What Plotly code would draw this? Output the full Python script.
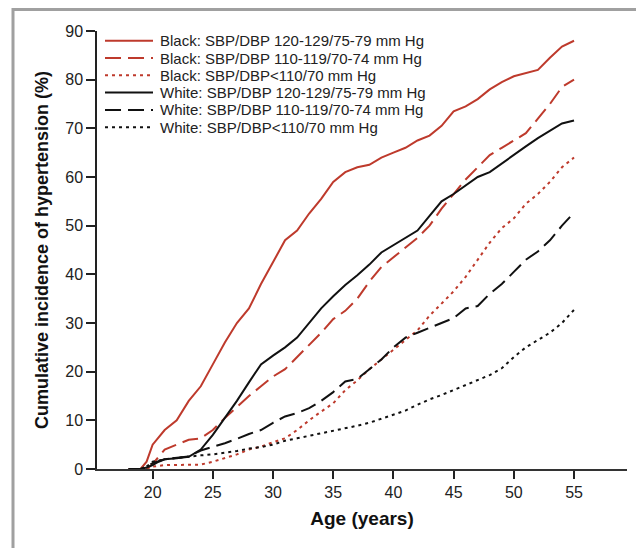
import plotly.graph_objects as go

# ---- data ----
ages_b_hi = [18, 19, 19.5, 20, 21, 22, 23, 24, 25, 26, 27, 28, 29, 30, 31, 32, 33, 34, 35, 36, 37, 38, 39,
             40, 41, 42, 43, 44, 45, 46, 47, 48, 49, 50, 51, 52, 53, 54, 55]
vals_b_hi = [0, 0, 1.5, 5, 8, 10, 14, 17, 21.5, 26, 30, 33, 38, 42.5, 47, 49, 52.5, 55.5, 59, 61, 62, 62.5, 64,
             65, 66, 67.5, 68.5, 70.5, 73.5, 74.5, 76, 78, 79.5, 80.7, 81.3, 82, 84.5, 86.8, 88]

ages_b_mid = [19.5, 20, 20.5, 21, 22, 23, 24, 25, 26, 27, 28, 29, 30, 31, 32, 33, 34, 35, 36, 37, 38, 39,
              40, 41, 42, 43, 44, 45, 46, 47, 48, 49, 50, 51, 52, 53, 54, 55]
vals_b_mid = [0, 1, 2.5, 4, 5, 6, 6.3, 8, 10.5, 12.8, 15, 17, 19, 20.5, 23, 25.5, 28, 30.8, 32.5, 35, 38.5, 41.5,
              43.5, 45.5, 47.5, 50, 53.5, 56.5, 59.5, 62, 64.5, 66, 67.5, 69, 72, 75, 78.5, 80]

ages_b_lo = [19.5, 20, 21, 22, 23, 24, 25, 26, 27, 28, 29, 30, 31, 32, 33, 34, 35, 36, 37, 38, 39,
             40, 41, 42, 43, 44, 45, 46, 47, 48, 49, 50, 51, 52, 53, 54, 55]
vals_b_lo = [0, 0.5, 0.8, 0.8, 0.8, 0.9, 1.5, 2.2, 3, 4, 4.6, 5.5, 6.3, 8, 10, 11.8, 13.5, 16.2, 18.2, 20.5, 22.5,
             24.5, 26.5, 28.5, 31.5, 34, 36.5, 39.5, 43, 46.5, 49.5, 51.5, 54.5, 56.5, 59, 62, 64]

ages_w_hi = [18, 19, 19.5, 20, 20.5, 21, 22, 23, 24, 25, 26, 27, 28, 29, 30, 31, 32, 33, 34, 35, 36, 37, 38, 39,
             40, 41, 42, 43, 44, 45, 46, 47, 48, 49, 50, 51, 52, 53, 54, 55]
vals_w_hi = [0, 0, 0.3, 0.8, 1.5, 2, 2.2, 2.5, 4, 7, 10.5, 14, 17.8, 21.5, 23.3, 25, 27, 30, 33, 35.5, 37.8, 39.8,
             42, 44.5, 46, 47.5, 49, 52, 55, 56.5, 58.3, 60, 61, 62.8, 64.5, 66.3, 68, 69.5, 71, 71.6]

ages_w_mid = [18, 19, 19.5, 20, 21, 22, 23, 24, 25, 26, 27, 28, 29, 30, 31, 32, 33, 34, 35, 36, 37, 38, 39,
              40, 41, 42, 43, 44, 45, 46, 47, 48, 49, 50, 51, 52, 53, 54, 55]
vals_w_mid = [0, 0, 0.5, 1.2, 2, 2.3, 2.6, 3.8, 4.5, 5.3, 6.2, 7.2, 8, 9.5, 10.8, 11.5, 12.5, 14, 15.8, 18, 18.5,
              20.5, 22.5, 25, 27, 28, 29, 30, 31, 33, 33.5, 36, 38, 40.5, 43, 44.7, 47, 50, 52.7]

ages_w_lo = [19.5, 20, 21, 22, 23, 24, 25, 26, 27, 28, 29, 30, 31, 32, 33, 34, 35, 36, 37, 38, 39,
             40, 41, 42, 43, 44, 45, 46, 47, 48, 49, 50, 51, 52, 53, 54, 55]
vals_w_lo = [0.5, 1.5, 2, 2.3, 2.5, 2.8, 3, 3.3, 3.7, 4.2, 4.5, 5, 5.8, 6.3, 6.8, 7.3, 7.8, 8.3, 8.9, 9.5, 10.3,
             11.2, 12, 13.2, 14.3, 15.2, 16.2, 17.3, 18.3, 19.3, 20.7, 23, 25, 26.5, 28, 30, 32.7]

names = [
    "Black: SBP/DBP 120-129/75-79 mm Hg",
    "Black: SBP/DBP 110-119/70-74 mm Hg",
    "Black: SBP/DBP<110/70 mm Hg",
    "White: SBP/DBP 120-129/75-79 mm Hg",
    "White: SBP/DBP 110-119/70-74 mm Hg",
    "White: SBP/DBP<110/70 mm Hg",
]

x_ticks = [20, 25, 30, 35, 40, 45, 50, 55]
y_ticks = [0, 10, 20, 30, 40, 50, 60, 70, 80, 90]

RED = "#BE3A2C"
BLK = "#111111"
DASH = "16px,7px"
DOT = "3px,4px"
series = [
    (ages_b_hi, vals_b_hi, RED, "solid"),
    (ages_b_mid, vals_b_mid, RED, DASH),
    (ages_b_lo, vals_b_lo, RED, DOT),
    (ages_w_hi, vals_w_hi, BLK, "solid"),
    (ages_w_mid, vals_w_mid, BLK, DASH),
    (ages_w_lo, vals_w_lo, BLK, DOT),
]

fig = go.Figure()
for (xs, ys, col, dash), nm in zip(series, names):
    fig.add_trace(go.Scatter(x=xs, y=ys, mode="lines", name=nm, showlegend=False,
                             line=dict(color=col, width=2, dash=dash)))

# page has an 8px body margin; layout given in page pixels
OFF = 8
W, H = 636, 540
L, T = 97 - OFF, 31 - OFF
pw, ph = 530, 438
R = W - L - pw
B = H - T - ph

def px_x(page_x):
    return (page_x - OFF - L) / pw

def px_y(page_y):
    return (T + ph - (page_y - OFF)) / ph

fig.update_layout(
    width=W, height=H,
    margin=dict(l=L, r=R, t=T, b=B, pad=0),
    paper_bgcolor="white", plot_bgcolor="white",
    font=dict(family="Liberation Sans, Arial, sans-serif", color="#222", size=15),
    showlegend=False,
    xaxis=dict(range=[15.38, 59.4], tickvals=x_ticks, ticks="outside", ticklen=8, tickwidth=1.5,
               tickcolor="#222", showline=True, linecolor="#333", linewidth=1.5, showgrid=False,
               zeroline=False, tickfont=dict(size=16, color="#222"),
               title=dict(text="<b>Age (years)</b>", font=dict(size=19, color="#111"), standoff=12)),
    yaxis=dict(range=[0, 90], tickvals=y_ticks, ticks="outside", ticklen=9, tickwidth=1.5,
               tickcolor="#222", showline=True, linecolor="#222", linewidth=1.5, showgrid=False,
               zeroline=False, tickfont=dict(size=16, color="#222"),
               title=dict(text="<b>Cumulative incidence of hypertension (%)</b>",
                          font=dict(size=18, color="#111"), standoff=12)),
)

# manual legend (samples + real text)
row_y = [40.7, 58.0, 75.3, 92.6, 109.9, 127.2]
for (xs, ys, col, dash), nm, ry in zip(series, names, row_y):
    fig.add_shape(type="line", xref="paper", yref="paper",
                  x0=px_x(105), x1=px_x(153), y0=px_y(ry), y1=px_y(ry),
                  line=dict(color=col, width=2, dash=dash))
    fig.add_annotation(xref="paper", yref="paper", x=px_x(158), y=px_y(ry),
                       xanchor="left", yanchor="middle", showarrow=False, text=nm,
                       font=dict(size=15, color="#222"))

# grey frame around the figure
fig.add_shape(type="rect", xref="paper", yref="paper",
              x0=px_x(13), x1=px_x(700), y0=px_y(620), y1=px_y(9.5),
              line=dict(color="#a0a0a0", width=3), fillcolor="rgba(0,0,0,0)", layer="below")

fig.write_html("out.html")
